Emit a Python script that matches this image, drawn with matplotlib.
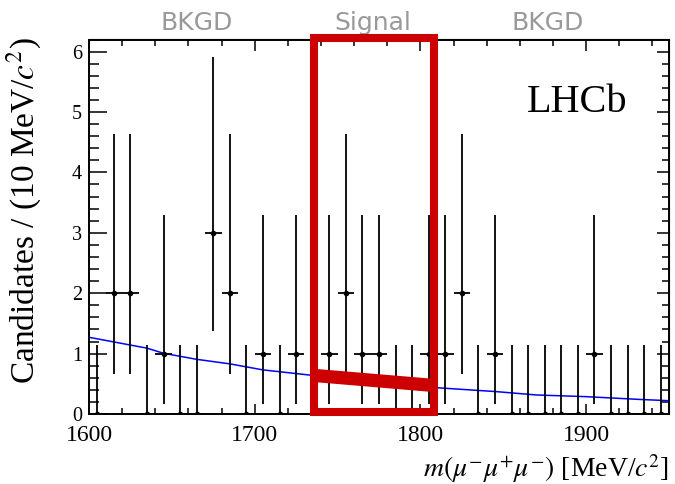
#!/usr/bin/env python
"""tau -> 3mu candidate mass spectrum with signal window and background fit."""
import matplotlib
matplotlib.use("Agg")
import matplotlib.pyplot as plt
from matplotlib.patches import Rectangle
from matplotlib.ticker import MultipleLocator
import numpy as np

# 10 MeV bins, 1600-1950
bin_centers = [1605, 1615, 1625, 1635, 1645, 1655, 1665, 1675, 1685, 1695,
               1705, 1715, 1725, 1735, 1745, 1755, 1765, 1775, 1785, 1795,
               1805, 1815, 1825, 1835, 1845, 1855, 1865, 1875, 1885, 1895,
               1905, 1915, 1925, 1935, 1945]
counts = [0, 2, 2, 0, 1, 0, 0, 3, 2, 0,
          1, 0, 1, 0, 1, 2, 1, 1, 0, 0,
          1, 1, 2, 0, 1, 0, 0, 0, 0, 0,
          1, 0, 0, 0, 0]
# Poisson (Garwood) interval edges per count
poisson_lo = {0: 0.0, 1: 0.173, 2: 0.662, 3: 1.367}
poisson_hi = {0: 1.148, 1: 3.300, 2: 4.638, 3: 5.918}

# background fit (blue) read along the mass range
fit_x = [1600, 1635, 1645, 1665, 1685, 1705, 1715, 1733, 1760, 1785,
         1810, 1846, 1870, 1900, 1931, 1950]
fit_y = [1.27, 1.09, 1.005, 0.905, 0.83, 0.73, 0.70, 0.645, 0.57, 0.50,
         0.435, 0.37, 0.315, 0.287, 0.243, 0.22]

# signal window and expected background band inside it
sig_lo, sig_hi = 1736, 1808
band_center = [0.646, 0.48]
band_half = 0.11

region_labels = ["BKGD", "Signal", "BKGD"]
region_x = [1665, 1771, 1877]

plt.rcParams["font.family"] = ["Liberation Serif", "DejaVu Serif"]
plt.rcParams["mathtext.fontset"] = "stix"

fig = plt.figure(figsize=(6.75, 4.84), dpi=100)
ax = fig.add_axes([89 / 675, 70 / 484, 580 / 675, 374.5 / 484])

x = np.array(bin_centers, dtype=float)
n = np.array(counts)
lo = np.array([poisson_lo[c] for c in counts])
hi = np.array([poisson_hi[c] for c in counts])
ax.errorbar(x, n, yerr=[n - lo, hi - n], xerr=5, fmt="o", color="black",
            markersize=3, elinewidth=1.3, capsize=0, zorder=3)

ax.plot(fit_x, fit_y, color="#0000ff", linewidth=1.1, zorder=2)

# expected background under the signal peak
bx = [sig_lo, sig_hi]
ax.fill_between(bx, [c - band_half for c in band_center],
                [c + band_half for c in band_center],
                color="#cc0000", linewidth=0, zorder=4)

ax.add_patch(Rectangle((sig_lo, 0.04), sig_hi - sig_lo, 6.23 - 0.04,
                       fill=False, edgecolor="#cc0000", linewidth=5.8,
                       joinstyle="miter", clip_on=False, zorder=5))

ax.set_xlim(1600, 1950)
ax.set_ylim(0, 6.2)

ax.xaxis.set_major_locator(MultipleLocator(100))
ax.xaxis.set_minor_locator(MultipleLocator(20))
ax.yaxis.set_major_locator(MultipleLocator(1))
ax.yaxis.set_minor_locator(MultipleLocator(0.2))
ax.tick_params(axis="y", which="major", direction="in", length=13, width=1.1,
               labelsize=14.5, pad=5)
ax.tick_params(axis="y", which="minor", direction="in", length=7, width=1.1)
ax.tick_params(axis="x", which="major", direction="in", length=7, width=1.1,
               labelsize=17, pad=8)
ax.tick_params(axis="x", which="minor", direction="in", length=4.3, width=1.1)
for s in ax.spines.values():
    s.set_linewidth(1.4)

top = ax.secondary_xaxis("top")
top.xaxis.set_major_locator(MultipleLocator(100))
top.xaxis.set_minor_locator(MultipleLocator(20))
top.tick_params(which="major", direction="in", length=8.6, width=1.1, labeltop=False)
top.tick_params(which="minor", direction="in", length=5, width=1.1)
right = ax.secondary_yaxis("right")
right.yaxis.set_major_locator(MultipleLocator(1))
right.yaxis.set_minor_locator(MultipleLocator(0.2))
right.tick_params(which="major", direction="in", length=8.6, width=1.1, labelright=False)
right.tick_params(which="minor", direction="in", length=5, width=1.1)

for lab, xc in zip(region_labels, region_x):
    ax.text(xc, 6.36, lab, ha="center", va="baseline", fontsize=18,
            family="DejaVu Sans", color="#999999", clip_on=False)

ax.text(1864, 5.0, "LHCb", ha="left", va="baseline", fontsize=29)

fig.text(669 / 675, 1 - 477 / 484, r"$m(\mu^{-}\mu^{+}\mu^{-})$ [MeV/$c^{2}$]",
         ha="right", va="baseline", fontsize=20)
fig.text(24 / 675, 1 - 37 / 484, r"Candidates / (10 MeV/$c^{2}$)",
         rotation=90, ha="center", va="top", fontsize=24)

fig.savefig("out.png", dpi=100)
